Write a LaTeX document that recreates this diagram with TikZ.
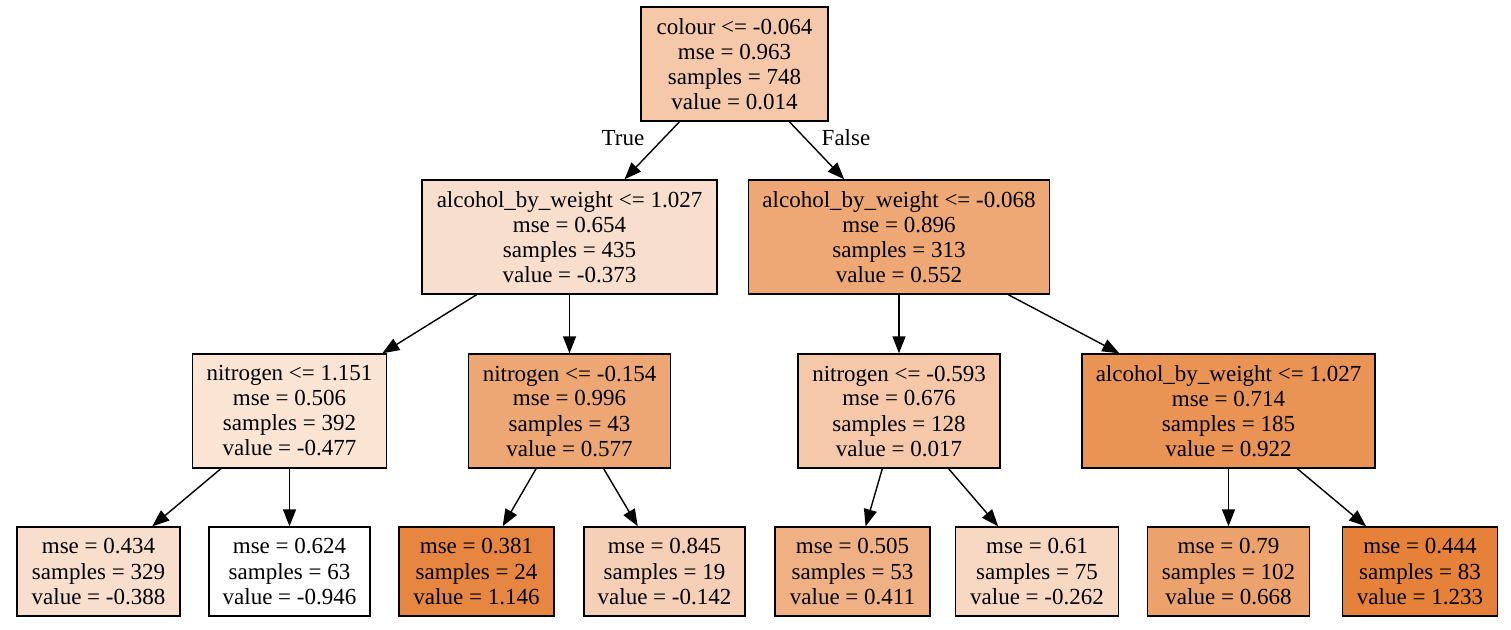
\documentclass[tikz,border=0pt]{standalone}
\usepackage{fontspec}
\setmainfont{Liberation Serif}
\usetikzlibrary{arrows.meta}

\definecolor{treeorange}{RGB}{229,129,57}

\begin{document}
\begin{tikzpicture}[x=0.5pt, y=-0.5pt,
    box/.style={draw, line width=0.7pt, align=center, inner xsep=0pt, inner ysep=0pt,
      font=\fontsize{11.5}{12.5}\selectfont},
    split/.style={box, minimum height=57pt},
    leaf/.style={box, minimum height=44.5pt},
    >={Triangle[length=8.5pt, width=6.5pt]}, line width=0.7pt]
    \path [fill=white] (0,0) rectangle (1511,629);
    \useasboundingbox (0,0) rectangle (1511,629);

    % split nodes
    \node [split, minimum width=93.5pt, fill=treeorange!44!white] (root) at (734.5,64)
      {colour <= -0.064\\mse = 0.963\\samples = 748\\value = 0.014};
    \node [split, minimum width=147.5pt, fill=treeorange!26!white] (l) at (569.5,237)
      {alcohol\_by\_weight <= 1.027\\mse = 0.654\\samples = 435\\value = -0.373};
    \node [split, minimum width=150.5pt, fill=treeorange!69!white] (r) at (899,237)
      {alcohol\_by\_weight <= -0.068\\mse = 0.896\\samples = 313\\value = 0.552};
    \node [split, minimum width=97pt, fill=treeorange!21!white] (ll) at (289.5,411)
      {nitrogen <= 1.151\\mse = 0.506\\samples = 392\\value = -0.477};
    \node [split, minimum width=101pt, fill=treeorange!70!white] (lr) at (569.5,411)
      {nitrogen <= -0.154\\mse = 0.996\\samples = 43\\value = 0.577};
    \node [split, minimum width=101pt, fill=treeorange!44!white] (rl) at (899,411)
      {nitrogen <= -0.593\\mse = 0.676\\samples = 128\\value = 0.017};
    \node [split, minimum width=146.5pt, fill=treeorange!86!white] (rr) at (1228.5,411)
      {alcohol\_by\_weight <= 1.027\\mse = 0.714\\samples = 185\\value = 0.922};

    % leaves
    \node [leaf, minimum width=81.5pt, fill=treeorange!26!white] (lll) at (98.5,571.5)
      {mse = 0.434\\samples = 329\\value = -0.388};
    \node [leaf, minimum width=80.5pt, fill=white] (llr) at (289.5,571.5)
      {mse = 0.624\\samples = 63\\value = -0.946};
    \node [leaf, minimum width=77.5pt, fill=treeorange!96!white] (lrl) at (476.5,571.5)
      {mse = 0.381\\samples = 24\\value = 1.146};
    \node [leaf, minimum width=80.5pt, fill=treeorange!37!white] (lrr) at (664.5,571.5)
      {mse = 0.845\\samples = 19\\value = -0.142};
    \node [leaf, minimum width=77.5pt, fill=treeorange!62!white] (rll) at (852.5,571.5)
      {mse = 0.505\\samples = 53\\value = 0.411};
    \node [leaf, minimum width=81.5pt, fill=treeorange!31!white] (rlr) at (1037,571.5)
      {mse = 0.61\\samples = 75\\value = -0.262};
    \node [leaf, minimum width=81pt, fill=treeorange!74!white] (rrl) at (1228.5,571.5)
      {mse = 0.79\\samples = 102\\value = 0.668};
    \node [leaf, minimum width=77.5pt, fill=treeorange] (rrr) at (1420,571.5)
      {mse = 0.444\\samples = 83\\value = 1.233};

    \node [font=\fontsize{11.5}{12.5}\selectfont] (true) at (623,138) {True};
    \node [font=\fontsize{11.5}{12.5}\selectfont] (false) at (846,138) {False};

    \draw [->] (root) -- (l);
    \draw [->] (root) -- (r);
    \draw [->] (l) -- (ll);
    \draw [->] (l) -- (lr);
    \draw [->] (r) -- (rl);
    \draw [->] (r) -- (rr);
    \draw [->] (ll) -- (lll);
    \draw [->] (ll) -- (llr);
    \draw [->] (lr) -- (lrl);
    \draw [->] (lr) -- (lrr);
    \draw [->] (rl) -- (rll);
    \draw [->] (rl) -- (rlr);
    \draw [->] (rr) -- (rrl);
    \draw [->] (rr) -- (rrr);
  \end{tikzpicture}
\end{document}
